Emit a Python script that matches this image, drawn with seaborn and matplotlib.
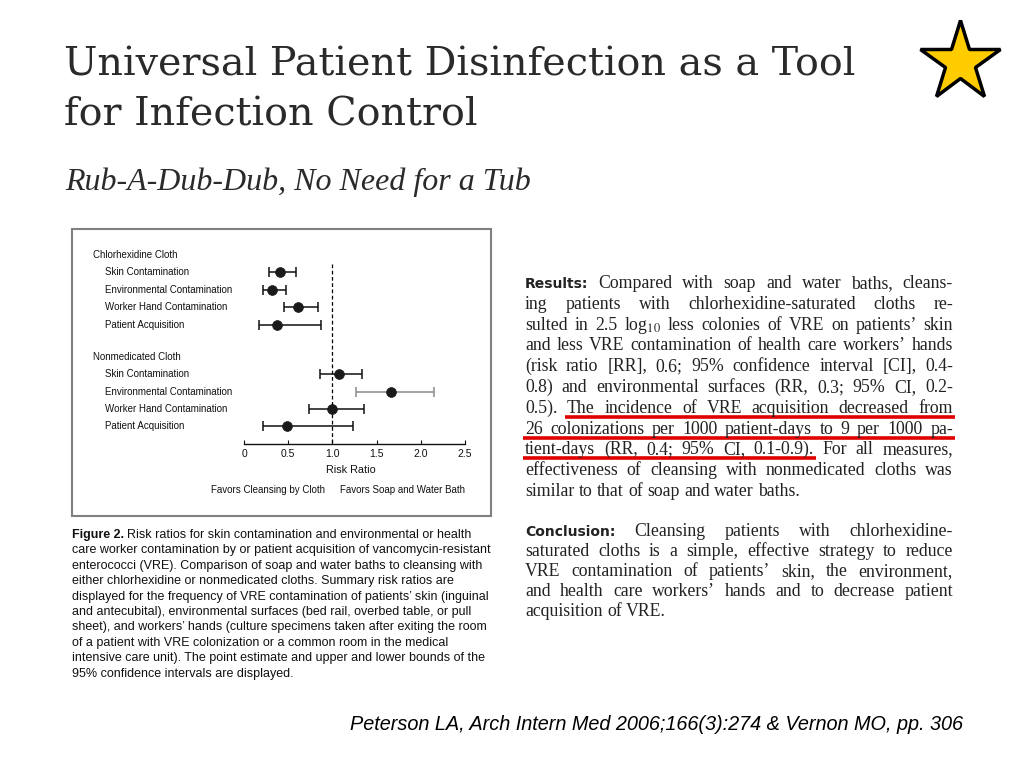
import numpy as np
import pandas as pd
import seaborn as sns
import matplotlib.pyplot as plt
from matplotlib import transforms as mtrans
from matplotlib.patches import Rectangle

# forest plot values (risk ratio and 95% CI)
groups = ["Chlorhexidine Cloth", "Nonmedicated Cloth"]
measures = ["Skin Contamination", "Environmental Contamination",
            "Worker Hand Contamination", "Patient Acquisition"]
chg_rr = [0.41, 0.32, 0.61, 0.37]
chg_lo = [0.28, 0.22, 0.45, 0.17]
chg_hi = [0.59, 0.47, 0.84, 0.87]
non_rr = [1.08, 1.66, 1.00, 0.49]
non_lo = [0.86, 1.27, 0.74, 0.21]
non_hi = [1.34, 2.15, 1.36, 1.23]
xticks = [0, 0.5, 1.0, 1.5, 2.0, 2.5]
xtick_labels = ["0", "0.5", "1.0", "1.5", "2.0", "2.5"]

results = [
    "Results: Compared with soap and water baths, cleans-",
    "ing patients with chlorhexidine-saturated cloths re-",
    "sulted in 2.5 log$_{10}$ less colonies of VRE on patients’ skin",
    "and less VRE contamination of health care workers’ hands",
    "(risk ratio [RR], 0.6; 95% confidence interval [CI], 0.4-",
    "0.8) and environmental surfaces (RR, 0.3; 95% CI, 0.2-",
    "0.5). The incidence of VRE acquisition decreased from",
    "26 colonizations per 1000 patient-days to 9 per 1000 pa-",
    "tient-days (RR, 0.4; 95% CI, 0.1-0.9). For all measures,",
    "effectiveness of cleansing with nonmedicated cloths was",
    "similar to that of soap and water baths.",
]
conclusion = [
    "Conclusion: Cleansing patients with chlorhexidine-",
    "saturated cloths is a simple, effective strategy to reduce",
    "VRE contamination of patients’ skin, the environment,",
    "and health care workers’ hands and to decrease patient",
    "acquisition of VRE.",
]
caption = [
    "Figure 2. Risk ratios for skin contamination and environmental or health",
    "care worker contamination by or patient acquisition of vancomycin-resistant",
    "enterococci (VRE). Comparison of soap and water baths to cleansing with",
    "either chlorhexidine or nonmedicated cloths. Summary risk ratios are",
    "displayed for the frequency of VRE contamination of patients’ skin (inguinal",
    "and antecubital), environmental surfaces (bed rail, overbed table, or pull",
    "sheet), and workers’ hands (culture specimens taken after exiting the room",
    "of a patient with VRE colonization or a common room in the medical",
    "intensive care unit). The point estimate and upper and lower bounds of the",
    "95% confidence intervals are displayed.",
]

sns.set_theme(style="white")
plt.rcParams["font.family"] = ["Liberation Sans", "DejaVu Sans"]
plt.rcParams["mathtext.fontset"] = "stix"

SANS = ["Liberation Sans", "DejaVu Sans"]
SERIF = ["Liberation Serif", "DejaVu Serif"]
HEAVY = ["DejaVu Sans"]
INK = "#222222"
PLOT_INK = "#111111"

fig = plt.figure(figsize=(10.24, 7.68), dpi=100)
fig.patch.set_facecolor("white")
ov = fig.add_axes([0, 0, 1, 1])
ov.set_autoscale_on(False)
ov.set_xlim(0, 1024)
ov.set_ylim(768, 0)
ov.axis("off")
renderer = fig.canvas.get_renderer()

# title block
ov.text(64, 75, "Universal Patient Disinfection as a Tool", family=["DejaVu Serif"],
        fontsize=28.5, color="#2a2a2a", va="baseline")
ov.text(64, 125, "for Infection Control", family=["DejaVu Serif"],
        fontsize=28.5, color="#2a2a2a", va="baseline")
ov.text(65, 190, "Rub-A-Dub-Dub, No Need for a Tub", family=SERIF,
        style="italic", fontsize=23, color="#2a2a2a", va="baseline")
ov.plot([960], [62], marker="*", ms=60, mfc="#FFCC00", mec="black", mew=2.5)

# figure frame
ov.add_patch(Rectangle((72, 229), 419, 287, fill=False, ec="#808080", lw=1.5))

# forest plot
pitch = 17.4
top_px = 255
rows, labels, rr, lo, hi, grp = [], [], [], [], [], []
header_rows = []
for g, (name, r, l, h) in enumerate(zip(groups, [chg_rr, non_rr], [chg_lo, non_lo], [chg_hi, non_hi])):
    base = g * 5.85
    header_rows.append(base)
    for k, m in enumerate(measures):
        rows.append(base + k + 1)
        labels.append(m)
        rr.append(r[k]); lo.append(l[k]); hi.append(h[k]); grp.append(name)
df = pd.DataFrame({"row": rows, "measure": labels, "rr": rr, "lo": lo, "hi": hi, "group": grp})

ymax, ymin = 10.85, -0.6
bot_px = top_px + ymax * pitch
up_px = top_px + ymin * pitch
ax = fig.add_axes([244 / 1024, (768 - bot_px) / 768, 221 / 1024, (bot_px - up_px) / 768])
ax.set_facecolor("none")

ax.vlines(1.0, 0.5, ymax, colors="black", linestyles=(0, (3, 2)), lw=0.9, zorder=1)
for i, row in df.iterrows():
    c = "#8a8a8a" if (row["group"] == groups[1] and row["measure"] == measures[1]) else PLOT_INK
    ax.errorbar(row["rr"], row["row"], xerr=[[row["rr"] - row["lo"]], [row["hi"] - row["rr"]]],
                fmt="none", ecolor=c, elinewidth=1.1, capsize=3.5, capthick=1.1, zorder=2)
sns.scatterplot(data=df, x="rr", y="row", ax=ax, color="#1a1a1a", s=50,
                edgecolor="#1a1a1a", linewidth=0.5, zorder=3, legend=False)

ax.set_xlim(0, 2.5)
ax.set_ylim(ymax, ymin)
ax.set_yticks([])
ax.set_xticks(xticks)
ax.set_xticklabels(xtick_labels, family=SANS, fontsize=7.5, color=PLOT_INK)
ax.set_xlabel("")
ax.set_ylabel("")
for s in ["left", "right", "top"]:
    ax.spines[s].set_visible(False)
ax.spines["bottom"].set_color(PLOT_INK)
ax.spines["bottom"].set_linewidth(1.0)
ax.tick_params(axis="x", bottom=True, direction="in", length=3, width=0.8, pad=4, colors=PLOT_INK)

tr = mtrans.blended_transform_factory(ov.transData, ax.transData)
for name, hr in zip(groups, header_rows):
    ax.text(93, hr, name, transform=tr, va="center", family=SANS, fontsize=7, color=PLOT_INK)
for _, row in df.iterrows():
    ax.text(105, row["row"], row["measure"], transform=tr, va="center", family=SANS,
            fontsize=7, color=PLOT_INK)

ov.text(351, 470, "Risk Ratio", ha="center", va="center", family=SANS, fontsize=7.8, color=PLOT_INK)
ov.text(268, 490, "Favors Cleansing by Cloth", ha="center", va="center", family=SANS,
        fontsize=7, color=PLOT_INK)
ov.text(402, 490, "Favors Soap and Water Bath", ha="center", va="center", family=SANS,
        fontsize=7, color=PLOT_INK)

# caption
for i, line in enumerate(caption):
    y = 538 + i * 15.4
    if i == 0:
        parts = line.split(" ", 2)
        h = ov.text(72, y, parts[0] + " " + parts[1], family=SANS, fontsize=9, weight="bold",
                    color=PLOT_INK, va="baseline")
        w = h.get_window_extent(renderer).width
        ov.text(72 + w + 3, y, parts[2], family=SANS, fontsize=9, color=PLOT_INK, va="baseline")
    else:
        ov.text(72, y, line, family=SANS, fontsize=9, color=PLOT_INK, va="baseline")


def justify(lines, x0, x1, y0, dy, fs, head_fs):
    placed = []
    for i, line in enumerate(lines):
        words = line.split(" ")
        y = y0 + i * dy
        arts = []
        for j, w in enumerate(words):
            if i == 0 and j == 0:
                arts.append(ov.text(0, y, w, family=HEAVY, weight="bold", fontsize=head_fs,
                                    color=INK, va="baseline"))
            else:
                arts.append(ov.text(0, y, w, family=SERIF, fontsize=fs, color=INK, va="baseline"))
        ws = [a.get_window_extent(renderer).width for a in arts]
        if i == len(lines) - 1 or len(words) == 1:
            gap = fs * 100 / 72 * 0.25
        else:
            gap = max(2.0, (x1 - x0 - sum(ws)) / (len(words) - 1))
        x = x0
        pos = []
        for a, w in zip(arts, ws):
            a.set_x(x)
            pos.append((x, x + w))
            x += w + gap
        placed.append((y, pos))
    return placed


res = justify(results, 525, 953, 288, 20.8, 12.8, 10)
justify(conclusion, 525, 953, 536, 20.0, 12.8, 10)

# red underlines under the acquisition sentence
for li, a, b in [(6, 1, -1), (7, 0, -1), (8, 0, 5)]:
    y, pos = res[li]
    ov.plot([pos[a][0] - 2, pos[b][1] + 2], [y + 4, y + 4], color="#e00000", lw=2.6,
            solid_capstyle="butt")

ov.text(350, 730, "Peterson LA, Arch Intern Med 2006;166(3):274 & Vernon MO, pp. 306",
        family=SANS, style="italic", fontsize=14.3, color="black", va="baseline")

fig.savefig("out.png", dpi=100, facecolor="white")
